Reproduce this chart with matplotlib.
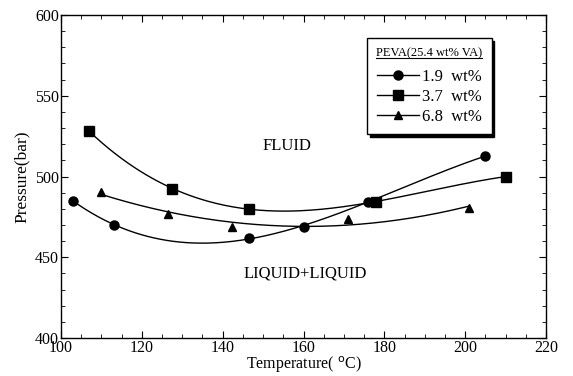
import numpy as np
import matplotlib
matplotlib.use("Agg")
import matplotlib.pyplot as plt
from matplotlib.ticker import MultipleLocator
from matplotlib.lines import Line2D

plt.rcParams['font.family'] = ['Liberation Serif', 'DejaVu Serif']

# data
t_19 = [103, 113, 146.5, 160, 176, 205]
p_19 = [485, 470, 462, 469, 484.5, 512.7]
t_37 = [107, 127.5, 146.5, 178, 210]
p_37 = [528, 492.5, 480, 484.5, 500]
t_68 = [110, 126.5, 142.3, 171, 201]
p_68 = [490.4, 477, 469, 473.5, 480.5]
series_labels = ['1.9  wt%', '3.7  wt%', '6.8  wt%']
legend_title = 'PEVA(25.4 wt% VA)'

fig = plt.figure(figsize=(5.73, 3.76), dpi=100)
ax = fig.add_axes([0.1065, 0.101, 0.8465, 0.859])

series = [(t_19, p_19, 'o', 6.5, 3), (t_37, p_37, 's', 6.5, 3), (t_68, p_68, '^', 5.5, 2)]
handles = []
for (t, p, m, ms, deg), lab in zip(series, series_labels):
    t = np.array(t); p = np.array(p)
    coef = np.polyfit(t, p, deg)
    xs = np.linspace(t.min(), t.max(), 200)
    ax.plot(xs, np.polyval(coef, xs), color='black', lw=1.0)
    ax.plot(t, p, linestyle='none', marker=m, color='black', markersize=ms)
    handles.append(Line2D([], [], color='black', lw=1.0, marker=m, markersize=ms))

ax.set_xlim(100, 220)
ax.set_ylim(400, 600)
ax.xaxis.set_major_locator(MultipleLocator(20))
ax.xaxis.set_minor_locator(MultipleLocator(5))
ax.yaxis.set_major_locator(MultipleLocator(50))
ax.yaxis.set_minor_locator(MultipleLocator(10))
ax.tick_params(which='both', direction='in', top=True, right=True, labelsize=11.5, pad=1.5)
ax.tick_params(which='major', length=5)
ax.tick_params(which='minor', length=3)
for s in ax.spines.values():
    s.set_linewidth(1.0)

ax.set_xlabel('Temperature( $^{\\mathrm{o}}$C)', fontsize=11.5, labelpad=-1)
ax.set_ylabel('Pressure(bar)', fontsize=12.5, labelpad=4)

ax.text(156, 519, 'FLUID', fontsize=12, ha='center', va='center')
ax.text(160.4, 440, 'LIQUID+LIQUID', fontsize=12, ha='center', va='center')

leg = ax.legend(handles, series_labels, title=legend_title, loc='upper left',
                bbox_to_anchor=(0.631, 0.929), frameon=True, fancybox=False,
                shadow={'color': 'black', 'alpha': 1.0}, edgecolor='black',
                fontsize=12, title_fontsize=9, handlelength=2.5, handletextpad=0.2,
                borderpad=0.55, borderaxespad=0, labelspacing=0.25, numpoints=1)
leg.get_frame().set_linewidth(1.0)
leg._legend_box.sep = 7

fig.canvas.draw()
r = fig.canvas.get_renderer()
bb = leg.get_title().get_window_extent(r)
inv = fig.transFigure.inverted()
(x0, y0), (x1, y1) = inv.transform([(bb.x0, bb.y0), (bb.x1, bb.y0)])
fig.add_artist(Line2D([x0, x1], [y0 + 0.003, y1 + 0.003], color='black', lw=0.8, transform=fig.transFigure))

fig.savefig('out.png', dpi=100)
